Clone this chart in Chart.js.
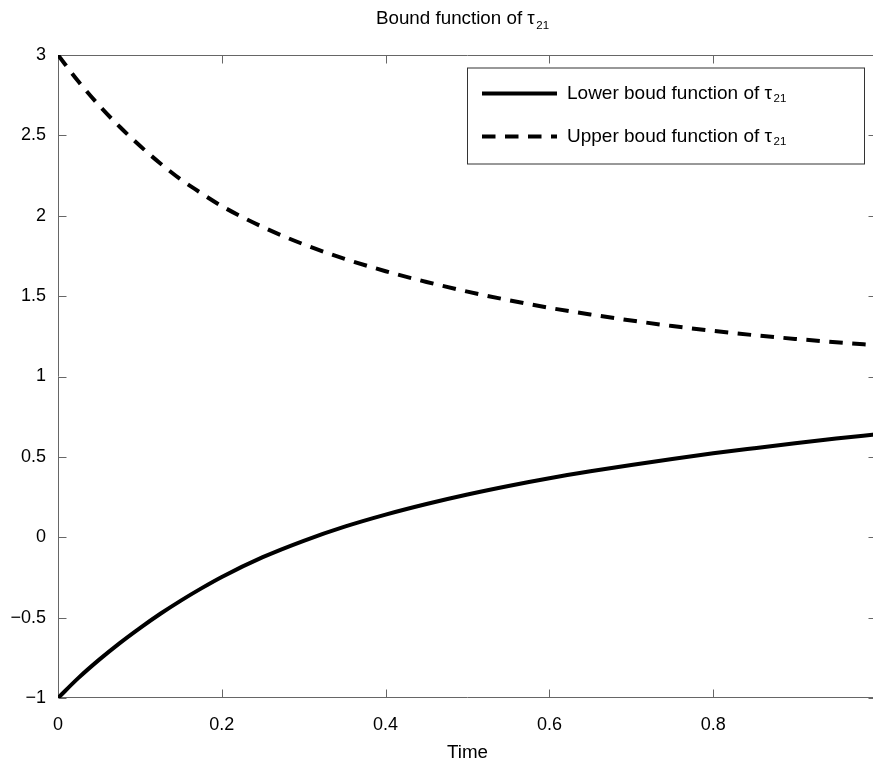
<!DOCTYPE html>
<html>
<head>
<meta charset="utf-8">
<script src="https://cdn.jsdelivr.net/npm/chart.js@4.4.1/dist/chart.umd.min.js"></script>
<style>
html, body { margin: 0; padding: 0; overflow: hidden; background: #ffffff; }
#c { display: block; }
</style>
</head>
<body>
<canvas id="c" width="890" height="764"></canvas>
<script>
// ---- data ----
const timeValues  = [0, 0.025, 0.05, 0.075, 0.1, 0.125, 0.15, 0.175, 0.2, 0.25, 0.3, 0.35, 0.4, 0.45, 0.5, 0.55, 0.6, 0.65, 0.7, 0.75, 0.8, 0.85, 0.9, 0.95, 1.0];
const lowerValues = [-1.0, -0.875, -0.763, -0.66, -0.565, -0.476, -0.394, -0.318, -0.247, -0.124, -0.022, 0.066, 0.141, 0.207, 0.266, 0.319, 0.367, 0.41, 0.45, 0.487, 0.522, 0.554, 0.585, 0.614, 0.641];
const upperValues = [3.0, 2.835, 2.687, 2.555, 2.435, 2.325, 2.225, 2.14, 2.06, 1.93, 1.822, 1.732, 1.655, 1.588, 1.528, 1.475, 1.427, 1.386, 1.348, 1.314, 1.284, 1.257, 1.234, 1.213, 1.194];
const seriesLabels = ['Lower boud function of \u03c4', 'Upper boud function of \u03c4'];
const seriesSub = '21';
const chartTitle = 'Bound function of \u03c4';
const xAxisTitle = 'Time';
const xTickValues = [0, 0.2, 0.4, 0.6, 0.8, 1];
const xTickLabels = ['0', '0.2', '0.4', '0.6', '0.8', '1'];
const yTickValues = [-1, -0.5, 0, 0.5, 1, 1.5, 2, 2.5, 3];
const yTickLabels = ['\u22121', '\u22120.5', '0', '0.5', '1', '1.5', '2', '2.5', '3'];

const FONT = '"Liberation Sans", Arial, Helvetica, sans-serif';
const AXIS_COLOR = '#666666';

function toPoints(xs, ys) { return xs.map((x, i) => ({ x: x, y: ys[i] })); }

function drawSubText(ctx, x, y, main, sub, size, subSize, subDrop) {
  ctx.font = size + 'px ' + FONT;
  ctx.textAlign = 'left';
  ctx.textBaseline = 'alphabetic';
  ctx.fillStyle = '#000';
  ctx.fillText(main, x, y);
  const w = ctx.measureText(main).width;
  ctx.font = subSize + 'px ' + FONT;
  ctx.fillText(sub, x + w + 1.5, y + subDrop);
}
function subTextWidth(ctx, main, sub, size, subSize) {
  ctx.font = size + 'px ' + FONT;
  const w1 = ctx.measureText(main).width;
  ctx.font = subSize + 'px ' + FONT;
  return w1 + 1.5 + ctx.measureText(sub).width;
}

const framePlugin = {
  id: 'frame',
  beforeDatasetsDraw(chart) {
    const ctx = chart.ctx, a = chart.chartArea;
    const xs = chart.scales.x, ys = chart.scales.y;
    ctx.save();
    ctx.strokeStyle = AXIS_COLOR;
    ctx.lineWidth = 1;
    const L = Math.round(a.left) + 0.5, R = Math.round(a.right) - 0.5;
    const T = Math.round(a.top) + 0.5, B = Math.round(a.bottom) - 0.5;
    ctx.beginPath();
    ctx.rect(L, T, R - L, B - T);
    ctx.stroke();
    const tl = 8;
    ctx.beginPath();
    xs.ticks.forEach(t => {
      const px = Math.round(xs.getPixelForValue(t.value)) + 0.5;
      ctx.moveTo(px, B); ctx.lineTo(px, B - tl);
      ctx.moveTo(px, T); ctx.lineTo(px, T + tl);
    });
    ys.ticks.forEach(t => {
      const py = Math.round(ys.getPixelForValue(t.value)) + 0.5;
      ctx.moveTo(L, py); ctx.lineTo(L + tl, py);
      ctx.moveTo(R, py); ctx.lineTo(R - tl, py);
    });
    ctx.stroke();
    ctx.restore();
  },
  afterDraw(chart) {
    const ctx = chart.ctx;
    ctx.save();
    // title
    const tw = subTextWidth(ctx, chartTitle, seriesSub, 18.8, 11.5);
    drawSubText(ctx, 462.5 - tw / 2, 24, chartTitle, seriesSub, 18.8, 11.5, 5);
    // legend
    const bx = 467, by = 67.5, bw = 398, bh = 97;
    ctx.fillStyle = '#fff';
    ctx.fillRect(bx, by, bw, bh);
    ctx.strokeStyle = '#333';
    ctx.lineWidth = 1;
    ctx.strokeRect(bx + 0.5, by + 0.5, bw - 1, bh - 1);
    const rows = [93.5, 136.5];
    chart.data.datasets.forEach((ds, i) => {
      const y = rows[i];
      ctx.save();
      ctx.strokeStyle = ds.borderColor;
      ctx.lineWidth = ds.borderWidth;
      ctx.lineCap = 'butt';
      ctx.setLineDash(ds.borderDash || []);
      ctx.beginPath();
      ctx.moveTo(482, y);
      ctx.lineTo(557, y);
      ctx.stroke();
      ctx.restore();
      drawSubText(ctx, 567, y + 5, seriesLabels[i], seriesSub, 19, 11.5, 3.5);
    });
    ctx.restore();
  }
};

new Chart(document.getElementById('c'), {
  type: 'line',
  data: {
    datasets: [
      {
        label: seriesLabels[0] + seriesSub,
        data: toPoints(timeValues, lowerValues),
        borderColor: '#000',
        borderWidth: 4,
        pointRadius: 0,
        cubicInterpolationMode: 'monotone',
        fill: false
      },
      {
        label: seriesLabels[1] + seriesSub,
        data: toPoints(timeValues, upperValues),
        borderColor: '#000',
        borderWidth: 4,
        borderDash: [13.5, 9.5],
        borderCapStyle: 'butt',
        pointRadius: 0,
        cubicInterpolationMode: 'monotone',
        fill: false
      }
    ]
  },
  options: {
    responsive: false,
    animation: false,
    devicePixelRatio: 1,
    layout: { padding: { top: 55, right: 13, left: 0, bottom: 0 } },
    plugins: { legend: { display: false }, title: { display: false }, tooltip: { enabled: false } },
    scales: {
      x: {
        type: 'linear', min: 0, max: 1,
        grid: { display: false, drawTicks: false },
        border: { display: false },
        afterBuildTicks: s => { s.ticks = xTickValues.map(v => ({ value: v })); },
        afterFit: s => { s.height = 66; s.paddingLeft = 0; s.paddingRight = 0; },
        ticks: {
          color: '#000', padding: 16, maxRotation: 0, autoSkip: false,
          font: { family: FONT, size: 18 },
          callback: (v, i) => xTickLabels[i]
        },
        title: {
          display: true, text: xAxisTitle, color: '#000',
          font: { family: FONT, size: 18.8 },
          padding: { top: 0, bottom: 0 }
        }
      },
      y: {
        type: 'linear', min: -1, max: 3,
        grid: { display: false, drawTicks: false },
        border: { display: false },
        afterBuildTicks: s => { s.ticks = yTickValues.map(v => ({ value: v })); },
        afterFit: s => { s.width = 58; s.paddingTop = 0; s.paddingBottom = 0; },
        ticks: {
          color: '#000', padding: 12, autoSkip: false,
          font: { family: FONT, size: 18 },
          callback: (v, i) => yTickLabels[i]
        }
      }
    }
  },
  plugins: [framePlugin]
});
</script>
</body>
</html>
